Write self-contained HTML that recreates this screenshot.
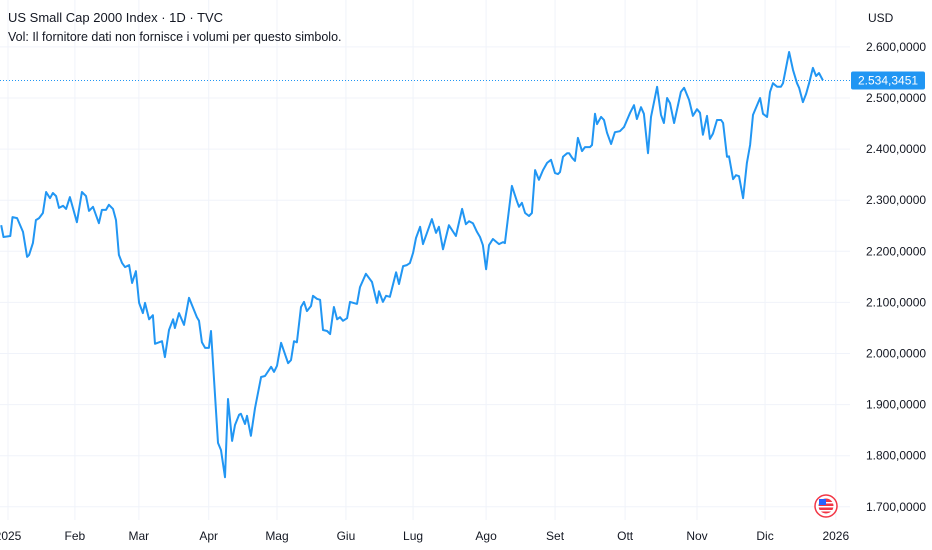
<!DOCTYPE html>
<html><head><meta charset="utf-8"><style>
html,body{margin:0;padding:0;background:#fff;width:932px;height:550px;overflow:hidden;font-family:"Liberation Sans",sans-serif}
</style></head><body>
<svg id="chart" width="932" height="550" xmlns="http://www.w3.org/2000/svg" style="position:absolute;left:0;top:0">
<g id="grid"></g>
<g id="yaxis"></g>
<g id="xaxis"></g>
<path id="line" fill="none" stroke="#2196f3" stroke-width="2" stroke-linejoin="round"/>
<line id="lastline" x1="0" x2="850" stroke="#2196f3" stroke-width="1" stroke-dasharray="1,2"/>
<rect id="lastbox" x="851" width="74" height="18" rx="2" fill="#2196f3"/>
<text id="lasttext" x="858" fill="#fff" font-size="12"></text>
<text x="8" y="22" font-size="13" fill="#131722">US Small Cap 2000 Index · 1D · TVC</text>
<text x="8" y="41" font-size="12.5" fill="#131722">Vol: Il fornitore dati non fornisce i volumi per questo simbolo.</text>
<text x="868" y="22" font-size="12" fill="#131722">USD</text>
<g>
<circle cx="826" cy="506" r="11" fill="#fff" stroke="#f23645" stroke-width="1.5"/>
<circle cx="826" cy="506" r="7.5" fill="#f23645"/>
<rect x="818" y="502" width="16" height="1.5" fill="#fff"/><rect x="818" y="506" width="16" height="1.5" fill="#fff"/><rect x="818" y="510" width="16" height="1.5" fill="#fff"/>
<rect x="819" y="499" width="7" height="6" fill="#2962ff"/>
</g>
</svg>
<script>
const days=[-3,-2,1,2,4,6.6,8.4,9.3,11,12.3,13.7,15.4,16.8,18.5,19.8,21.2,22.5,24.3,25.6,27.3,30.4,32.6,34.4,35.7,37.5,40.1,41.4,43.2,44.5,46.3,47.6,48.9,50.3,51.6,53.4,54.7,56.4,57.8,59.5,60.4,62.2,63.9,64.8,67.9,69.2,71,72.8,73.6,75.4,77.6,79.8,83.3,84.2,85.5,86.9,88.6,89.5,92.6,93.9,95.7,97,98.8,100.1,101.9,102.7,104.5,105.4,107.1,108.9,111.6,113.3,116,117.3,118.6,120.4,123.5,124.8,126.1,127.4,129.2,130.5,131.8,133.6,134.5,136.2,137.6,138.9,140.7,142,143.7,145.1,146.4,147.7,149.5,150.8,153.9,155.2,157.8,160.5,162.7,163.6,165.3,166.7,168.4,171.1,172.4,174.2,175.9,177.2,178.6,179.9,181.7,183,186.9,188.7,190,191.8,194.4,197.5,200.2,201.9,203.3,205,206.8,208.1,209.4,210.8,212.1,213.8,216.5,218.3,219.1,222.2,224.4,225.3,226.6,228,229.7,231,232.4,234.1,235.9,237.7,239.4,241.2,242.5,243.4,244.7,246.5,247.4,248.7,250,251.3,253.1,254.4,256.6,257.5,258.8,259.7,261.5,262.8,264.1,265.9,267.6,269.8,271.6,274.3,276,277.3,279.1,280.4,282.2,283.5,286.2,287.9,289.2,290.6,291.9,293.7,296.7,298.1,300.3,302,303.8,305.1,306.4,308.2,309.5,310.8,312.6,314.4,315.3,317,317.9,319.7,321,322.3,324.1,325.8,327.2,328.5,331.6,332.9,334.7,336,337.3,339.1,340.8,341.7,344.4,346.1,347.9,348.8,350.5,351.9,353.2,354.9,356.3,357.6,359.3];
const values=[2251,2228,2230,2267,2265,2238,2189,2193,2216,2261,2265,2275,2316,2304,2314,2308,2285,2289,2283,2306,2257,2316,2308,2279,2287,2255,2281,2281,2291,2283,2261,2193,2177,2169,2173,2138,2161,2099,2079,2099,2067,2075,2019,2024,1993,2046,2067,2050,2079,2056,2109,2071,2064,2022,2011,2011,2044,1825,1811,1758,1911,1829,1860,1880,1882,1862,1878,1839,1893,1954,1956,1974,1964,1976,2021,1981,1987,2024,2022,2091,2101,2083,2093,2113,2107,2105,2046,2044,2038,2091,2067,2071,2064,2069,2101,2097,2130,2156,2140,2099,2122,2101,2113,2111,2159,2136,2171,2173,2177,2197,2226,2248,2214,2263,2236,2248,2204,2251,2230,2283,2253,2259,2255,2238,2228,2212,2165,2212,2224,2214,2218,2216,2328,2298,2287,2295,2275,2269,2275,2359,2340,2359,2373,2379,2353,2351,2355,2385,2392,2392,2383,2377,2422,2396,2404,2404,2408,2469,2449,2463,2457,2432,2410,2433,2435,2443,2471,2486,2459,2482,2469,2392,2463,2522,2467,2451,2500,2490,2451,2512,2520,2496,2465,2478,2471,2428,2465,2420,2430,2457,2457,2451,2385,2386,2341,2349,2347,2304,2373,2408,2467,2500,2469,2463,2512,2529,2522,2522,2529,2590,2555,2529,2520,2492,2508,2529,2559,2543,2549,2534.3451];
const monthLabels=["2025","Feb","Mar","Apr","Mag","Giu","Lug","Ago","Set","Ott","Nov","Dic","2026"];
const monthDays=[0,29.5,57.7,88.5,118.6,149,178.6,210.8,241.2,272.1,303.8,333.8,365];
const priceTicks=[2600,2500,2400,2300,2200,2100,2000,1900,1800,1700];
const lastPrice=2534.3451;
const xs=d=>8+d*2.268;
const ys=v=>98+(2500-v)*0.511;
const NS="http://www.w3.org/2000/svg";
const fmt=v=>{const s=v.toFixed(4).split('.');return s[0].replace(/\B(?=(\d{3})+(?!\d))/g,'.')+','+s[1];};
const grid=document.getElementById('grid'),yax=document.getElementById('yaxis'),xax=document.getElementById('xaxis');
priceTicks.forEach(p=>{
  const l=document.createElementNS(NS,'line');
  
  
  l.setAttribute('x1',0);l.setAttribute('x2',850);l.setAttribute('y1',ys(p));l.setAttribute('y2',ys(p));l.setAttribute('stroke','#f0f3fa');
  grid.appendChild(l);
  const t=document.createElementNS(NS,'text');
  
  
  t.setAttribute('x',866);t.setAttribute('y',ys(p)+4);t.setAttribute('font-size','12');t.setAttribute('fill','#131722');
  t.textContent=fmt(p);yax.appendChild(t);
});
monthLabels.forEach((m,i)=>{
  const x=xs(monthDays[i]);
  const l=document.createElementNS(NS,'line');
  
  
  l.setAttribute('x1',x);l.setAttribute('x2',x);l.setAttribute('y1',0);l.setAttribute('y2',520);l.setAttribute('stroke','#f0f3fa');
  grid.appendChild(l);
  const t=document.createElementNS(NS,'text');
  
  
  t.setAttribute('x',x);t.setAttribute('y',540);t.setAttribute('font-size','12');t.setAttribute('fill','#131722');t.setAttribute('text-anchor','middle');
  t.textContent=m;xax.appendChild(t);
});
document.getElementById('line').setAttribute('d',days.map((d,i)=>(i?'L':'M')+xs(d).toFixed(1)+','+ys(values[i]).toFixed(1)).join(''));
const ly=ys(lastPrice);
const ll=document.getElementById('lastline');ll.setAttribute('y1',ly);ll.setAttribute('y2',ly);
document.getElementById('lastbox').setAttribute('y',ly-9);
const lt=document.getElementById('lasttext');lt.setAttribute('y',ly+4);lt.textContent=fmt(lastPrice);
</script>
</body></html>
